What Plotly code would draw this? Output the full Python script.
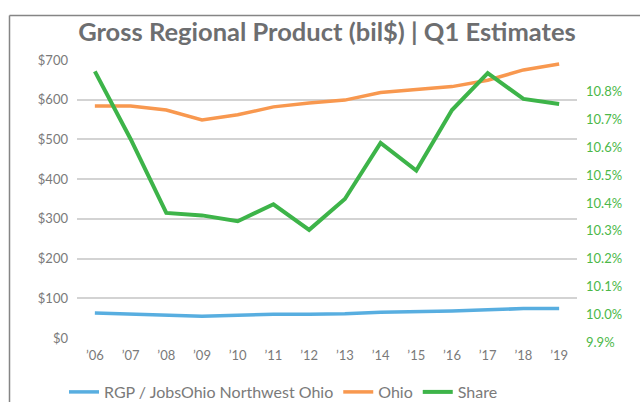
import plotly.graph_objects as go

years = ["’06", "’07", "’08", "’09", "’10", "’11", "’12", "’13", "’14", "’15", "’16", "’17", "’18", "’19"]
rgp_nw_ohio = [63, 61, 58, 55, 57, 60, 60, 61, 65, 66, 68, 71, 74, 74]
ohio = [584, 584, 574, 549, 562, 582, 592, 599, 618, 625, 633, 649, 675, 690]
share = [10.859, 10.616, 10.350, 10.341, 10.320, 10.381, 10.289, 10.400, 10.602, 10.502, 10.720, 10.853, 10.760, 10.742]

left_ticks = [0, 100, 200, 300, 400, 500, 600, 700]
left_labels = ["$0", "$100", "$200", "$300", "$400", "$500", "$600", "$700"]
right_ticks = [9.9, 10.0, 10.1, 10.2, 10.3, 10.4, 10.5, 10.6, 10.7, 10.8]
right_labels = ["9.9%", "10.0%", "10.1%", "10.2%", "10.3%", "10.4%", "10.5%", "10.6%", "10.7%", "10.8%"]

BLUE = "#58aee0"
ORANGE = "#f8984f"
GREEN = "#3db449"
GRAY = "#7a7a7a"
FONT = "Lato"

fig = go.Figure()
fig.add_trace(go.Scatter(x=years, y=rgp_nw_ohio, name="RGP / JobsOhio Northwest Ohio",
                         mode="lines", line=dict(color=BLUE, width=3.5)))
fig.add_trace(go.Scatter(x=years, y=ohio, name="Ohio",
                         mode="lines", line=dict(color=ORANGE, width=3.5)))
fig.add_trace(go.Scatter(x=years, y=share, name="Share", yaxis="y2",
                         mode="lines", line=dict(color=GREEN, width=4)))

W, H = 640, 402
L, R, T, B = 77, 63, 60, 64
pw = W - L - R
ph = H - T - B

def px_x(x):
    return (x - L) / pw

def px_y(y):
    return (H - B - y) / ph

fig.update_layout(
    width=W, height=H,
    margin=dict(l=L, r=R, t=T, b=B, pad=0, autoexpand=False),
    paper_bgcolor="white", plot_bgcolor="white",
    font=dict(family=FONT, color=GRAY, size=13),
    title=dict(text="<b>Gross Regional Product (bil$) | Q1 Estimates</b>",
               x=0.5, xref="paper", xanchor="center",
               y=1 - 32 / H, yref="container", yanchor="middle",
               font=dict(family=FONT, size=25.5, color="#6d6e70")),
    xaxis=dict(type="category", range=[-0.5, 13.5], showgrid=False, zeroline=False,
               showline=False, ticks="", ticklabelstandoff=8,
               tickfont=dict(size=13, color=GRAY, family=FONT)),
    yaxis=dict(range=[0, 700], tickvals=left_ticks, ticktext=left_labels,
               showgrid=True, gridcolor="#d3d3d3", gridwidth=2, zeroline=False,
               showline=False, ticks="", ticklabelstandoff=8,
               tickfont=dict(size=13, color=GRAY, family=FONT)),
    yaxis2=dict(range=[9.9, 10.9], overlaying="y", side="right",
                tickvals=right_ticks, ticktext=right_labels,
                showgrid=False, zeroline=False, showline=False, ticks="",
                ticklabelstandoff=8, ticklabelshift=4,
                tickfont=dict(size=13, color="#4cb848", family=FONT)),
    legend=dict(orientation="h", x=px_x(64), xanchor="left", y=px_y(392), yanchor="middle",
                font=dict(size=16, color=GRAY, family=FONT), itemwidth=30,
                bgcolor="rgba(0,0,0,0)"),
    showlegend=True,
    shapes=[
        dict(type="line", xref="paper", yref="paper", x0=px_x(9.5), x1=px_x(645),
             y0=px_y(15.5), y1=px_y(15.5), line=dict(color="#858585", width=1.5)),
        dict(type="line", xref="paper", yref="paper", x0=px_x(9.5), x1=px_x(9.5),
             y0=px_y(15.5), y1=px_y(410), line=dict(color="#858585", width=1.5)),
    ],
)

fig.write_html("out.html", config={"displayModeBar": False},
               post_script="document.body.style.margin='0';document.body.style.padding='0';document.body.style.overflow='hidden';")
